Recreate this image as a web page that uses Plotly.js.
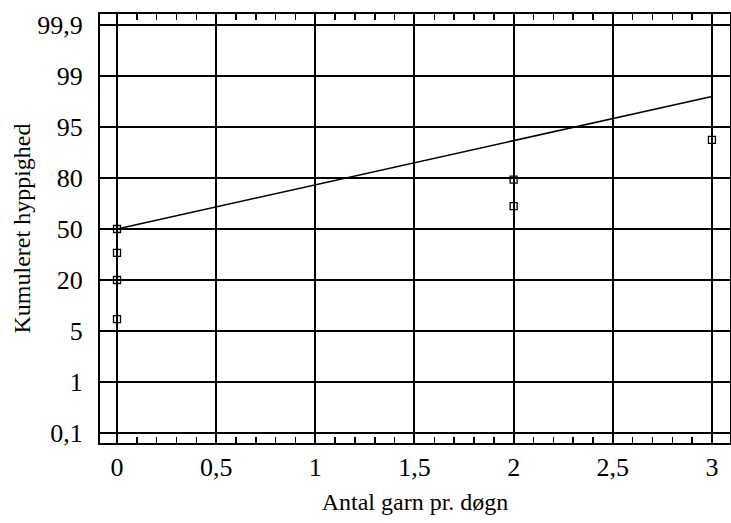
<!DOCTYPE html>
<html>
<head>
<meta charset="utf-8">
<script src="https://cdn.plot.ly/plotly-3.0.1.min.js"></script>
<style>html,body{margin:0;padding:0;background:#fff;}#chart{width:731px;height:523px;}</style>
</head>
<body>
<div id="chart"></div>
<script>
// Probability-scale levels (evenly spaced grid in the reference)
const yLevels = [0.1, 1, 5, 20, 50, 80, 95, 99, 99.9];
const yTickText = ["0,1", "1", "5", "20", "50", "80", "95", "99", "99,9"];

// Observed points (Antal garn pr. døgn, kumuleret hyppighed %)
const obsX = [0, 0, 0, 0, 2, 2, 3];
const obsY = [50, 36, 20, 8.5, 79, 63.5, 91.2];

// Fitted line
const fitX = [0, 3];
const fitY = [50, 97.4];

// Axis transform: percentage -> grid position (piecewise between labelled levels)
function toPos(p) {
  for (let i = 0; i < yLevels.length - 1; i++) {
    if (p <= yLevels[i + 1]) {
      return i + (p - yLevels[i]) / (yLevels[i + 1] - yLevels[i]);
    }
  }
  return yLevels.length - 1;
}
const yTickVals = yLevels.map(toPos);

const fam = "Liberation Serif";
const xRange = [-0.0857, 3.091];

const traces = [
  {
    x: fitX, y: fitY.map(toPos), mode: "lines", type: "scatter",
    line: {color: "#000", width: 1.5}, hoverinfo: "skip", showlegend: false
  },
  {
    x: obsX, y: obsY.map(toPos), mode: "markers", type: "scatter",
    marker: {symbol: "square-open", size: 7, color: "#000", line: {width: 1.3, color: "#000"}},
    showlegend: false
  }
];

const layout = {
  width: 731, height: 523,
  margin: {l: 100, r: 1, t: 14, b: 80},
  separators: ",.",
  paper_bgcolor: "#fff", plot_bgcolor: "#fff",
  font: {family: fam, size: 24, color: "#000"},
  showlegend: false,
  xaxis: {
    range: xRange,
    tickmode: "linear", tick0: 0, dtick: 0.5,
    tickfont: {family: fam, size: 26, color: "#000"},
    showgrid: true, gridcolor: "#000", gridwidth: 2,
    zeroline: false,
    showline: true, linecolor: "#000", linewidth: 2, mirror: "allticks",
    ticks: "inside", ticklen: 6, tickwidth: 2, tickcolor: "#000", ticklabelstandoff: 0,
    minor: {ticks: "inside", ticklen: 6, tickwidth: 1.5, tickcolor: "#000", nticks: 6, showgrid: false},
    title: {text: "Antal garn pr. døgn", font: {family: fam, size: 24, color: "#000"}, standoff: 12}
  },
  yaxis: {
    range: [-0.196, 8.216],
    tickmode: "array", tickvals: yTickVals, ticktext: yTickText,
    tickfont: {family: fam, size: 26, color: "#000"},
    showgrid: true, gridcolor: "#000", gridwidth: 2,
    zeroline: false,
    showline: true, linecolor: "#000", linewidth: 2, mirror: true,
    ticks: "", ticklabelstandoff: 10,
    title: {text: "Kumuleret hyppighed", font: {family: fam, size: 24, color: "#000"}, standoff: 0}
  }
};

Plotly.newPlot("chart", traces, layout, {displayModeBar: false, staticPlot: true});
</script>
</body>
</html>
